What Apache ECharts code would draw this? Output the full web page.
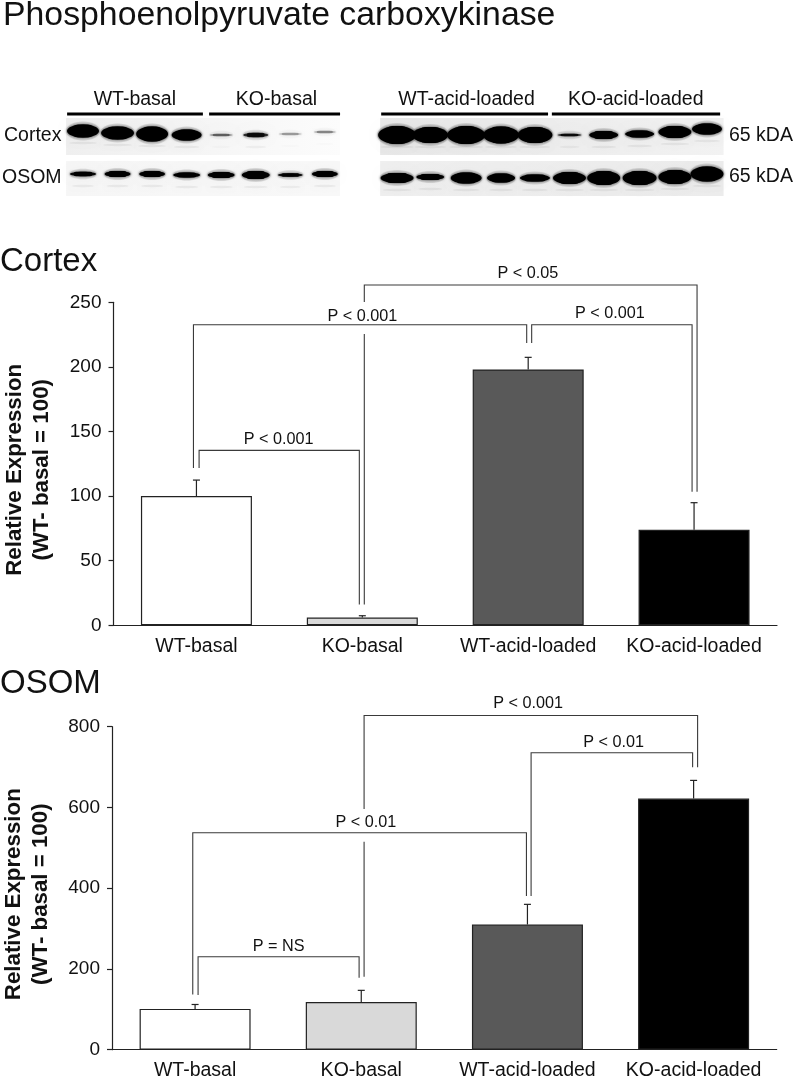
<!DOCTYPE html>
<html><head><meta charset="utf-8">
<style>html,body{margin:0;padding:0;background:#fff}#c{width:793px;height:1076px}</style>
<script src="https://cdn.jsdelivr.net/npm/echarts@6/dist/echarts.min.js"></script>
</head><body><div id="c"></div>
<script>
const categories = ['WT-basal','KO-basal','WT-acid-loaded','KO-acid-loaded'];
const barColors = ['#ffffff','#d9d9d9','#595959','#000000'];
const cortexValues = [100, 6, 198, 74];
const cortexErrTop = [112.4, 7.4, 207.4, 94.9];
const osomValues = [101, 118, 310, 622];
const osomErrTop = [112, 147, 360, 667];
const cortexTicks = {min:0,max:250,interval:50};
const osomTicks = {min:0,max:800,interval:200};

// brackets: [category position, value] paths; several paths = a broken line
const cortexBrackets = [
  [[[0.016,121.8],[0.016,135.4],[0.982,135.4],[0.982,16.1]]],
  [[[-0.018,121.8],[-0.018,232.6],[1.991,232.6],[1.991,218.5]]],
  [[[2.021,218.5],[2.021,232.6],[2.988,232.6],[2.988,103.4]]],
  [[[1.012,16.1],[1.012,225.5]],[[1.012,250.2],[1.012,263.4],[3.018,263.4],[3.018,103.4]]]
];
const cortexPLabels = [[0.495,144,'P < 0.001'],[1,239,'P < 0.001'],[1.998,272,'P < 0.05'],[2.492,241,'P < 0.001']];
const osomBrackets = [
  [[[0.018,135.5],[0.018,230.3],[0.987,230.3],[0.987,178.3]]],
  [[[-0.014,137],[-0.014,537.4],[1.994,537.4],[1.994,380.7]]],
  [[[2.022,380.7],[2.022,735.6],[2.994,735.6],[2.994,699.4]]],
  [[[1.017,180.8],[1.017,515]],[[1.017,596],[1.017,827.6],[3.024,827.6],[3.024,699.4]]]
];
const osomPLabels = [[0.503,256,'P = NS'],[1.028,563,'P < 0.01'],[2.004,857,'P < 0.001'],[2.518,762,'P < 0.01']];

// blot: lane numbers, band darkness and band size, read by eye
const blotLanes = [0,1,2,3,4,5,6,7,9.09,10.05,11.09,12.1,13.08,14.08,15.07,16.11,17.13,18.06];
const cortexBandY     = [131,133,134,135,135,135,134,132,135,135,135,135,135,135,135,134,132,129];
const cortexBandW     = [32,33,32,30,23,25,23,22,38,36,38,36,35,24,29,29,33,30];
const cortexBandH     = [13,13,15,11,2.5,4.5,2.5,2.5,18,16,18,17,16,2.5,8,7,12,11];
const cortexBandDark  = [1,1,1,1,.35,.75,.2,.25,1,1,1,1,1,.75,1,1,1,1];
const osomBandY       = [174,174,174,175,175,175,175,174,178,177,178,178,178,178,178,178,177,174];
const osomBandW       = [26,26,26,27,27,28,25,26,33,28,31,28,30,33,33,34,33,33];
const osomBandH       = [4.5,6,6,5,6,8,3.5,6,10,6,11,9,7,12,14,14,14,15];
const osomBandDark    = [.95,1,1,1,1,1,.9,1,1,1,1,1,1,1,1,1,1,1];
const groupSpans = [[-0.46,3.47],[3.65,7.44],[8.63,13.46],[13.57,18.44]];
const groupLabelPos = [1.5,5.6,11.1,16];
const blotPanels = [
  [-0.49,7.44,118,155,'#efefef','#fcfcfc'],
  [8.6,18.54,118,155,'#e8e8e8','#f2f2f2'],
  [-0.49,7.44,161,196,'#f6f6f6','#f8f8f8'],
  [8.6,18.54,161,196,'#efefef','#ececec']
];

const FONT = '"Liberation Sans", Arial, sans-serif';
const chart = echarts.init(document.getElementById('c'), null, {renderer:'canvas'});

function blotItem(params, api){
  const kids = [];
  blotPanels.forEach(p=>{
    const a = api.coord([p[0],p[2]]), b = api.coord([p[1],p[3]]);
    kids.push({type:'rect',shape:{x:a[0],y:a[1],width:b[0]-a[0],height:b[1]-a[1]},
      style:{fill:new echarts.graphic.LinearGradient(0,0,1,0,[{offset:0,color:p[4]},{offset:1,color:p[5]}])}});
  });
  const addBands=(ys,ws,hs,ds)=>{
    blotLanes.forEach((l,i)=>{
      const c = api.coord([l,ys[i]]);
      const d = ds[i];
      // faint secondary band under the main one
      kids.push({type:'ellipse',shape:{cx:c[0],cy:c[1]+12,rx:ws[i]/2-2,ry:1.2},
        style:{fill:'rgba(0,0,0,'+(0.05*d)+')',shadowBlur:4,shadowColor:'rgba(0,0,0,'+(0.06*d)+')'}});
      // soft halo
      kids.push({type:'ellipse',shape:{cx:c[0],cy:c[1],rx:ws[i]/2+1,ry:hs[i]/2+3},
        style:{fill:'rgba(0,0,0,'+(0.10*d)+')',shadowBlur:7,shadowColor:'rgba(0,0,0,'+(0.2*d)+')'}});
      // core of the band
      kids.push({type:'ellipse',shape:{cx:c[0],cy:c[1],rx:ws[i]/2,ry:hs[i]/2},
        style:{fill:'rgba(0,0,0,'+d+')',shadowBlur:3,shadowColor:'rgba(0,0,0,'+(d*0.8)+')'}});
      kids.push({type:'rect',shape:{x:c[0]-ws[i]*0.36,y:c[1]-hs[i]/2,width:ws[i]*0.72,height:hs[i],r:hs[i]/2},
        style:{fill:'rgba(0,0,0,'+d+')'}});
    });
  };
  addBands(cortexBandY,cortexBandW,cortexBandH,cortexBandDark);
  addBands(osomBandY,osomBandW,osomBandH,osomBandDark);
  groupSpans.forEach((s,i)=>{
    const a = api.coord([s[0],114]), b = api.coord([s[1],114]);
    kids.push({type:'line',shape:{x1:a[0],y1:a[1],x2:b[0],y2:b[1]},style:{stroke:'#000',lineWidth:3}});
    const t = api.coord([groupLabelPos[i],100]);
    kids.push({type:'text',style:{x:t[0],y:t[1],text:categories[i],align:'center',verticalAlign:'middle',
      font:'19.5px '+FONT,fill:'#111'}});
  });
  return {type:'group',children:kids};
}

function errItem(tops){
  return (params, api)=>{
    const i = params.dataIndex;
    const base = api.coord([i, api.value(1)]);
    const top = api.coord([i, tops[i]]);
    return {type:'group',children:[
      {type:'line',shape:{x1:base[0],y1:base[1],x2:top[0],y2:top[1]},style:{stroke:'#222',lineWidth:1.2}},
      {type:'line',shape:{x1:top[0]-3.5,y1:top[1],x2:top[0]+3.5,y2:top[1]},style:{stroke:'#222',lineWidth:1.2}}
    ]};
  };
}
function bracketItem(list){
  return (params, api)=>({type:'group',children:list[params.dataIndex].map(path=>({
    type:'polyline',shape:{points:path.map(p=>api.coord(p))},
    style:{stroke:'#3a3a3a',lineWidth:1.1,fill:null}
  }))});
}
function pLabelItem(list){
  return (params, api)=>{
    const l = list[params.dataIndex], c = api.coord([l[0],l[1]]);
    return {type:'text',style:{x:c[0],y:c[1],text:l[2],align:'center',verticalAlign:'middle',
      font:'16.2px '+FONT,fill:'#111'}};
  };
}
function panelSeries(values,tops,brackets,labels,catX,valX,y){
  return [
    {type:'bar',xAxisIndex:catX,yAxisIndex:y,barWidth:111,silent:true,
     data:values.map((v,i)=>({value:v,itemStyle:{color:barColors[i],borderColor:'#222',borderWidth:1.2}}))},
    {type:'custom',xAxisIndex:catX,yAxisIndex:y,silent:true,clip:false,z:3,
     renderItem:errItem(tops),data:values.map((v,i)=>[i,v])},
    {type:'custom',xAxisIndex:valX,yAxisIndex:y,silent:true,clip:false,z:4,
     renderItem:bracketItem(brackets),data:brackets.map(b=>b[0][0])},
    {type:'custom',xAxisIndex:valX,yAxisIndex:y,silent:true,clip:false,z:5,
     renderItem:pLabelItem(labels),data:labels.map(l=>[l[0],l[1]])}
  ];
}
const axisLine = {show:true,onZero:false,lineStyle:{color:'#222',width:1.2}};
function catAxis(g){return {type:'category',gridIndex:g,data:categories,axisTick:{show:false},axisLine:axisLine,
  axisLabel:{color:'#111',fontFamily:FONT,fontSize:19.5,margin:11,interval:0}};}
function hidX(g){return {type:'value',gridIndex:g,min:-0.5,max:3.5,show:false};}
function valAxis(g,t){return Object.assign({type:'value',gridIndex:g,splitLine:{show:false},
  axisLine:axisLine,axisTick:{show:true,length:5,lineStyle:{color:'#222',width:1.2}},
  axisLabel:{color:'#111',fontFamily:FONT,fontSize:19,margin:12},
  name:'Relative Expression\n(WT- basal = 100)',nameLocation:'middle',nameGap:58,
  nameTextStyle:{fontFamily:FONT,fontWeight:'bold',fontSize:22.3,lineHeight:27,color:'#111',padding:[0,12,0,0]}},t);}

function sideText(text,x,y){return {type:'text',x:x,y:y,silent:true,
  style:{text:text,font:'19.5px '+FONT,fill:'#111',verticalAlign:'middle',align:'left'}};}

chart.setOption({
  animation:false,
  backgroundColor:'#fff',
  title:[
    {text:'Phosphoenolpyruvate carboxykinase',left:3,top:-1,padding:0,textStyle:{fontFamily:FONT,fontWeight:'normal',fontSize:33.8,color:'#111'}},
    {text:'Cortex',left:0,top:245,padding:0,textStyle:{fontFamily:FONT,fontWeight:'normal',fontSize:33,color:'#111'}},
    {text:'OSOM',left:0,top:667,padding:0,textStyle:{fontFamily:FONT,fontWeight:'normal',fontSize:33,color:'#111'}}
  ],
  graphic:[sideText('Cortex',4,136),sideText('OSOM',2,178),sideText('65 kDA',729,135.5),sideText('65 kDA',729,176.5)],
  grid:[
    {left:66,top:90,width:658,height:110,outerBoundsMode:'none'},
    {left:113.5,top:302.3,width:663.5,height:323,outerBoundsMode:'none'},
    {left:112,top:726.7,width:664.7,height:323,outerBoundsMode:'none'}
  ],
  xAxis:[
    {type:'value',gridIndex:0,min:-0.4921,max:18.5522,show:false},
    catAxis(1),hidX(1),catAxis(2),hidX(2)
  ],
  yAxis:[
    {type:'value',gridIndex:0,min:90,max:200,inverse:true,show:false},
    valAxis(1,cortexTicks),valAxis(2,osomTicks)
  ],
  series:[
    {type:'custom',xAxisIndex:0,yAxisIndex:0,silent:true,clip:false,renderItem:blotItem,data:[[0,100]]},
    ...panelSeries(cortexValues,cortexErrTop,cortexBrackets,cortexPLabels,1,2,1),
    ...panelSeries(osomValues,osomErrTop,osomBrackets,osomPLabels,3,4,2)
  ]
});
</script></body></html>
